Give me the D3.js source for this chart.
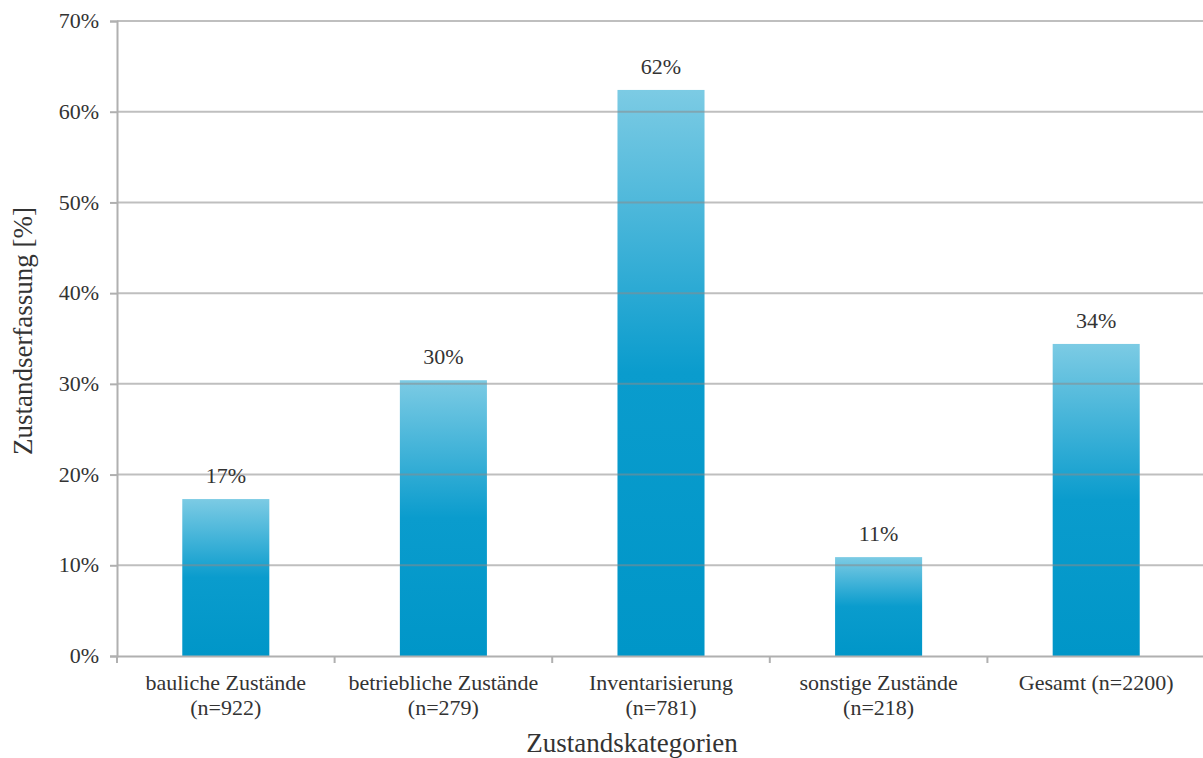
<!DOCTYPE html>
<html><head><meta charset="utf-8">
<script src="https://cdn.jsdelivr.net/npm/d3@7"></script>
<style>body{margin:0;background:#fff}svg{display:block}</style>
</head><body><svg id="c" width="1203" height="758"></svg>
<script>
const categories = ["bauliche Zustände|(n=922)", "betriebliche Zustände|(n=279)", "Inventarisierung|(n=781)", "sonstige Zustände|(n=218)", "Gesamt (n=2200)"];
const values = [17.3, 30.4, 62.4, 10.9, 34.4];
const labels = ["17%", "30%", "62%", "11%", "34%"];
const yTicks = [0, 10, 20, 30, 40, 50, 60, 70];

const FONT = "'Liberation Serif', Tinos, 'Times New Roman', serif";
const svg = d3.select("#c").style("font-family", FONT);
const pL = 117, pR = 1205, pT = 21, pB = 656;
const x = d3.scaleBand().domain(categories).range([pL, pR]).paddingInner(0.6).paddingOuter(0.3);
const xb = d3.scaleBand().domain(categories).range([pL, pR]);
const y = d3.scaleLinear().domain([0, 70]).range([pB, pT]);

const defs = svg.append("defs");
const g = defs.append("linearGradient").attr("id", "grad").attr("x1", 0).attr("y1", 0).attr("x2", 0).attr("y2", 1);
g.append("stop").attr("offset", "0%").attr("stop-color", "#7ccbe4");
g.append("stop").attr("offset", "50%").attr("stop-color", "#0a9ccd");
g.append("stop").attr("offset", "100%").attr("stop-color", "#0096c8");

svg.selectAll("rect.bar").data(values).join("rect").attr("class", "bar")
  .attr("x", (d, i) => x(categories[i])).attr("width", x.bandwidth())
  .attr("y", d => y(d)).attr("height", d => pB - y(d)).attr("fill", "url(#grad)");

svg.selectAll("line.grid").data(yTicks.filter(t => t > 0)).join("line").attr("class", "grid")
  .attr("x1", pL).attr("x2", 1203).attr("y1", d => y(d)).attr("y2", d => y(d))
  .attr("stroke", "#8a8a8a").attr("stroke-opacity", 0.55).attr("stroke-width", 2);

const ya = svg.append("g").attr("transform", `translate(${pL},0)`)
  .call(d3.axisLeft(y).tickValues(yTicks).tickFormat(d => d + "%").tickSize(7).tickPadding(11));
ya.attr("font-family", null).attr("font-size", null);
ya.select(".domain").attr("stroke", "#b0b0b0").attr("stroke-width", 2);
ya.selectAll(".tick line").attr("stroke", "#b0b0b0").attr("stroke-width", 2);
ya.selectAll(".tick text").style("font-family", FONT).attr("font-size", 22).attr("fill", "#333").attr("dy", "0.3em");

const xa = svg.append("g").attr("transform", `translate(0,${pB})`)
  .call(d3.axisBottom(xb).tickSize(0).tickFormat(""));
xa.select(".domain").attr("stroke", "#b0b0b0").attr("stroke-width", 2);
xa.selectAll(".tick").remove();
const bounds = categories.map(c => xb(c)).concat([xb(categories[4]) + xb.bandwidth()]);
xa.selectAll("line.sep").data(bounds).join("line").attr("class", "sep")
  .attr("x1", d => d).attr("x2", d => d).attr("y1", 0).attr("y2", 7).attr("stroke", "#b0b0b0").attr("stroke-width", 2);

svg.selectAll("text.cat").data(categories).join("text").attr("class", "cat")
  .attr("text-anchor", "middle").attr("font-size", 22).attr("fill", "#333").style("font-family", FONT)
  .each(function(d) {
    const parts = d.split("|");
    const t = d3.select(this);
    parts.forEach((p, i) => t.append("tspan").attr("x", xb(d) + xb.bandwidth() / 2).attr("y", 690 + i * 25).text(p));
  });

svg.selectAll("text.val").data(values).join("text").attr("class", "val")
  .attr("x", (d, i) => x(categories[i]) + x.bandwidth() / 2).attr("y", d => y(d) - 16)
  .attr("text-anchor", "middle").attr("font-size", 22).attr("fill", "#333").style("font-family", FONT).text((d, i) => labels[i]);

svg.append("text").attr("x", 632).attr("y", 752).attr("text-anchor", "middle").attr("font-size", 27).attr("fill", "#333").style("font-family", FONT).text("Zustandskategorien");
svg.append("text").attr("transform", "translate(32,331) rotate(-90)").attr("text-anchor", "middle").attr("font-size", 27).attr("fill", "#333").style("font-family", FONT).text("Zustandserfassung [%]");
</script></body></html>
